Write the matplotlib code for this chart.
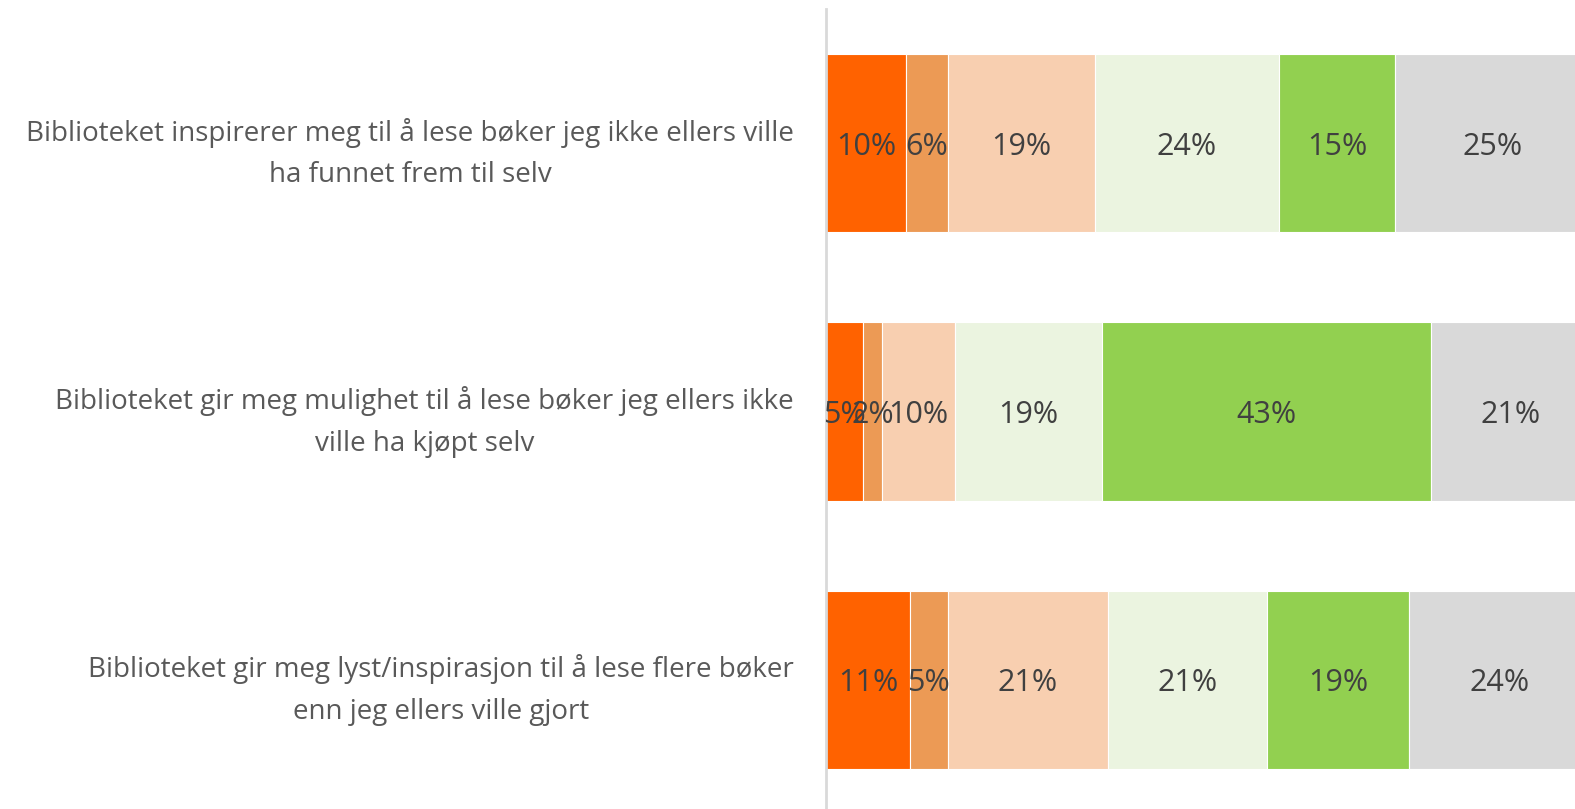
import numpy as np
import matplotlib
matplotlib.use('Agg')
import matplotlib.pyplot as plt

plt.rcParams['font.family'] = ['Open Sans', 'DejaVu Sans']

# data (percent)
categories = [
    'Biblioteket inspirerer meg til å lese bøker jeg ikke ellers ville\nha funnet frem til selv',
    'Biblioteket gir meg mulighet til å lese bøker jeg ellers ikke\nville ha kjøpt selv',
    'Biblioteket gir meg lyst/inspirasjon til å lese flere bøker\nenn jeg ellers ville gjort',
]
seg1 = [10.4, 4.9, 11.0]
seg2 = [5.5, 2.4, 4.9]
seg3 = [19.2, 9.6, 21.0]
seg4 = [24.1, 19.2, 20.7]
seg5 = [15.2, 43.0, 18.6]
seg6 = [25.4, 20.9, 23.8]
colors = ['#FF6200', '#EC9A55', '#F8CFB0', '#EBF4E0', '#92D050', '#D9D9D9']

segments = [seg1, seg2, seg3, seg4, seg5, seg6]

fig = plt.figure(figsize=(15.75, 8.09), dpi=100)
ax = fig.add_axes([826/1575, -5/809, 765/1575, 805/809])

y = np.arange(len(categories))
left = np.zeros(len(categories))
for vals, col in zip(segments, colors):
    vals = np.array(vals)
    ax.barh(y, vals, left=left, height=0.665, color=col,
            edgecolor='white', linewidth=0.8)
    for yi, l, v in zip(y, left, vals):
        ax.text(l + v/2, yi, f'{v:.0f}%', ha='center', va='center_baseline',
                fontsize=22, color='#404040')
    left += vals

ax.set_xlim(0, 100)
ax.set_ylim(2.5, -0.5)
ax.set_yticks(y)
ax.set_yticklabels(categories, fontsize=20, color='#595959', linespacing=1.65)
for lab in ax.get_yticklabels():
    lab.set_multialignment('center')
ax.tick_params(axis='y', length=0, pad=23)
ax.set_xticks([])
for s in ['top', 'right', 'bottom']:
    ax.spines[s].set_visible(False)
ax.spines['left'].set_color('#D9D9D9')
ax.spines['left'].set_linewidth(2)

fig.savefig('out.png', dpi=100)
